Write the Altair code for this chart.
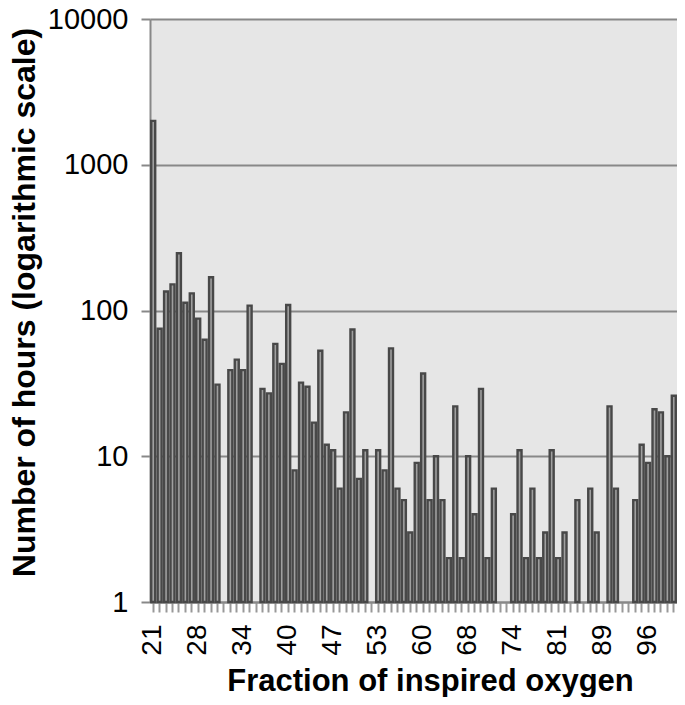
import altair as alt
import pandas as pd

# Hours at each FiO2 category (None = no bar drawn)
hours = [2000, 75, 135, 151, 247, 113, 131, 88, 63, 169, 31, None,
         39, 46, 39, 108, None,
         29, 27, 59, 43, 109, 8, 32, 30, 17, 53, 12, 11, 6, 20, 74, 7, 11, None,
         11, 8, 55, 6, 5, 3, 9, 37, 5, 10, 5, 2, 22, 2, 10, 4, 29, 2, 6, None, None,
         4, 11, 2, 6, 2, 3, 11, 2, 3, None, 5, None, 6, 3, None, 22, 6, None, None,
         5, 12, 9, 21, 20, 10, 26]
tick_labels = ["21", "28", "34", "40", "47", "53", "60", "68", "74", "81", "89", "96"]
label_step = 7
y_ticks = [1, 10, 100, 1000, 10000]

n = len(hours)
df = pd.DataFrame({"idx": list(range(n)), "hours": hours}).dropna()

label_arr = "[" + ",".join(f"'{t}'" for t in tick_labels) + "]"
label_expr = (f"datum.value % {label_step} == 0 && datum.value / {label_step} < {len(tick_labels)}"
              f" ? {label_arr}[datum.value / {label_step}] : ''")

FONT = "Liberation Sans"

chart = alt.Chart(df).mark_bar(
    fill="#a0a0a0", stroke="#484848", strokeWidth=2.4
).encode(
    x=alt.X("idx:O",
            scale=alt.Scale(domain=list(range(n)), paddingInner=0.38, paddingOuter=0.19),
            axis=alt.Axis(title="Fraction of inspired oxygen", labelExpr=label_expr,
                          labelAngle=270, labelPadding=12, labelFontSize=28, labelFont=FONT,
                          labelColor="#000", tickColor="#999", tickWidth=2, tickSize=10,
                          tickBand="center", domainColor="#888", domainWidth=2, grid=False,
                          titleFont=FONT, titleFontSize=31, titleFontWeight="bold",
                          titleColor="#000", titleX=280, titleY=88,
                          titleBaseline="alphabetic", titleAlign="center",
                          labelOverlap=False)),
    y=alt.Y("hours:Q",
            scale=alt.Scale(type="log", domain=[1, 10000], nice=False),
            axis=alt.Axis(title="Number of hours (logarithmic scale)", values=y_ticks,
                          format="d", labelFontSize=29, labelFont=FONT, labelColor="#000",
                          labelPadding=13, tickColor="#888", tickWidth=2, tickSize=9,
                          domainColor="#888", domainWidth=2, gridColor="#888", gridWidth=2,
                          titleFont=FONT, titleFontSize=32, titleFontWeight="bold",
                          titleColor="#000", titleAngle=270, titleX=-116, titleY=283,
                          titleBaseline="alphabetic", titleAlign="center")),
    y2=alt.datum(1),
).properties(
    width=527, height=583,
    autosize=alt.AutoSizeParams(type="none"),
    padding={"left": 142, "top": 11, "right": 0, "bottom": 95},
).configure_view(
    fill="#e6e6e6", stroke=None
)

chart.save("out.html", embed_options={"renderer": "svg", "actions": False})
